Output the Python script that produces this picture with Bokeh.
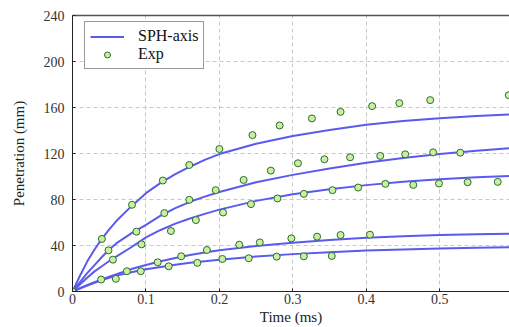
from bokeh.plotting import figure
from bokeh.models import Range1d, FixedTicker, LinearAxis, ColumnDataSource
from bokeh.embed import file_html
from bokeh.resources import INLINE

# ---- data ----
curve_t = [0, 0.01, 0.02, 0.03, 0.04, 0.05, 0.06, 0.08, 0.1, 0.12, 0.14, 0.16, 0.18, 0.2,
           0.25, 0.3, 0.35, 0.4, 0.45, 0.5, 0.55, 0.595]
sph_1 = [0, 13.5, 26, 36.5, 45.7, 54, 61.5, 74, 85.5, 94.5, 102, 108.5, 114.5, 119.5,
         128.5, 135.2, 140.5, 145, 148.2, 150.7, 152.6, 154]
sph_2 = [0, 8, 16, 23, 30, 36.5, 42, 50.5, 58, 66, 72.5, 78, 82.5, 86.5,
         95, 101.4, 107, 112, 116, 119.5, 122.3, 124.5]
sph_3 = [0, 6, 12, 17.5, 22, 26.5, 30.5, 38.5, 47, 53.5, 59, 63.5, 67.5, 71.2,
         78.8, 84.5, 89, 92.5, 95.5, 97.7, 99.3, 100.5]
sph_4 = [0, 2.8, 5.5, 8, 10.5, 12.8, 15, 19.5, 23, 26.3, 29.2, 31.8, 34, 35.9,
         39.5, 42.4, 44.8, 46.7, 48.1, 49.1, 49.8, 50.3]
sph_5 = [0, 2.6, 5.2, 7.6, 10, 12, 13.8, 16.8, 19.3, 21.3, 23.2, 24.9, 26.4, 27.7,
         30.4, 32.5, 34.2, 35.6, 36.6, 37.4, 38, 38.4]

exp_1_t = [0, 0.040, 0.081, 0.123, 0.159, 0.200, 0.245, 0.282, 0.326, 0.365, 0.408, 0.445, 0.487, 0.594]
exp_1 = [0, 45.7, 75.4, 96.5, 110, 123.9, 136, 144.4, 150.5, 156.2, 161.2, 163.8, 166.4, 170.7]
exp_2_t = [0.049, 0.087, 0.125, 0.159, 0.195, 0.233, 0.270, 0.307, 0.343, 0.378, 0.419, 0.453, 0.491, 0.528]
exp_2 = [35.8, 52, 68.2, 79.7, 88.1, 97, 105.1, 111.5, 115, 116.7, 117.9, 119.3, 121, 120.7]
exp_3_t = [0.055, 0.094, 0.134, 0.168, 0.205, 0.243, 0.279, 0.315, 0.354, 0.389, 0.426, 0.464, 0.499, 0.538, 0.579]
exp_3 = [27.7, 41, 52.6, 62.1, 68.7, 76, 80.9, 84.9, 88.1, 90.4, 93.6, 92.7, 93.9, 95, 95.3]
exp_4_t = [0.039, 0.074, 0.116, 0.148, 0.183, 0.227, 0.255, 0.298, 0.333, 0.365, 0.405]
exp_4 = [10.4, 17.6, 25.4, 30.6, 36.1, 40.7, 42.7, 46.2, 47.7, 49.1, 49.4]
exp_5_t = [0.059, 0.093, 0.131, 0.170, 0.204, 0.240, 0.278, 0.315, 0.353]
exp_5 = [11, 17.6, 21.9, 24.9, 28.3, 28.9, 30.3, 30.6, 30.9]

x_ticks = [0, 0.1, 0.2, 0.3, 0.4, 0.5]
y_ticks = [0, 40, 80, 120, 160, 200, 240]

FONT = "Liberation Serif"
LINE_COLOR = "#5a5af0"

p = figure(width=509, height=327, output_backend="svg", toolbar_location=None,
           x_range=Range1d(0, 0.595), y_range=Range1d(0, 240),
           min_border_left=72, min_border_right=0, min_border_top=15, min_border_bottom=35)
p.outline_line_color = None
p.background_fill_color = "white"

curves = ColumnDataSource(dict(xs=[curve_t] * 5, ys=[sph_1, sph_2, sph_3, sph_4, sph_5]))
p.multi_line("xs", "ys", source=curves, line_color=LINE_COLOR, line_width=2, legend_label="SPH-axis")

ex = exp_1_t + exp_2_t + exp_3_t + exp_4_t + exp_5_t
ey = exp_1 + exp_2 + exp_3 + exp_4 + exp_5
p.scatter(ex, ey, marker="circle", size=7, fill_color="#c8f0a0", line_color="#2e6b2e",
          line_width=1, legend_label="Exp")

p.xaxis.ticker = FixedTicker(ticks=x_ticks)
p.yaxis.ticker = FixedTicker(ticks=y_ticks)
p.xaxis.axis_label = "Time (ms)"
p.yaxis.axis_label = "Penetration (mm)"

for axes in (p.xaxis, p.yaxis):
    axes.major_label_text_font = FONT
    axes.major_label_text_font_size = "14px"
    axes.major_label_text_color = "#333333"
    axes.axis_label_text_font = FONT
    axes.axis_label_text_font_style = "normal"
    axes.axis_label_text_font_size = "15px"
    axes.axis_label_text_color = "#222222"
    axes.axis_line_color = "#222222"
    axes.major_tick_line_color = "#222222"
    axes.major_tick_in = 3
    axes.major_tick_out = 0
    axes.minor_tick_line_color = None

p.xaxis.axis_label_standoff = 2
p.xaxis.major_label_standoff = 2
p.yaxis.axis_label_standoff = 14
p.yaxis.major_label_standoff = 8

top = LinearAxis(ticker=FixedTicker(ticks=[]), major_label_text_font_size="0px",
                 axis_line_color="#555555", axis_line_width=1.5,
                 major_tick_line_color=None, minor_tick_line_color=None)
p.add_layout(top, "above")

p.grid.grid_line_color = "#c8c8c8"
p.grid.grid_line_dash = "4 3"
p.grid.grid_line_width = 1
p.xgrid.ticker = FixedTicker(ticks=x_ticks)
p.ygrid.ticker = FixedTicker(ticks=y_ticks)

p.legend.location = (12, 222)
p.legend.margin = 0
p.legend.label_text_font = FONT
p.legend.label_text_font_size = "16px"
p.legend.label_text_color = "#111111"
p.legend.border_line_color = "#333333"
p.legend.border_line_width = 1
p.legend.padding = 5
p.legend.spacing = 0
p.legend.label_height = 15
p.legend.glyph_height = 15
p.legend.glyph_width = 34
p.legend.label_standoff = 14
p.legend.background_fill_alpha = 1

open("out.html", "w").write(file_html(p, INLINE))
